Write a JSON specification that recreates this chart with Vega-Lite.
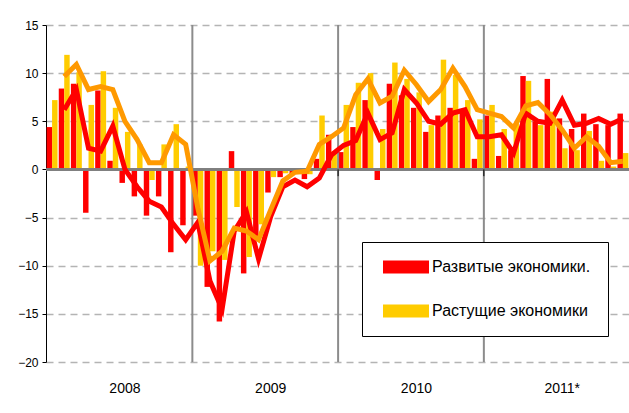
{
  "$schema": "https://vega.github.io/schema/vega-lite/v6.json",
  "width": 583,
  "height": 337,
  "autosize": "none",
  "padding": {"left": 46, "top": 25, "right": 0, "bottom": 51},
  "background": "white",
  "config": {
    "font": "Liberation Sans",
    "view": {"stroke": null},
    "axis": {"labelColor": "black", "labelFont": "Liberation Sans"},
    "legend": {"labelFont": "Liberation Sans"}
  },
  "data": {"values": [
    {"m":"2008-01","s":"Развитые экономики.","v":4.4,"ma":null},{"m":"2008-01","s":"Растущие экономики","v":7.2,"ma":null},
    {"m":"2008-02","s":"Развитые экономики.","v":8.4,"ma":6.2},{"m":"2008-02","s":"Растущие экономики","v":11.9,"ma":9.65},
    {"m":"2008-03","s":"Развитые экономики.","v":8.9,"ma":8.3},{"m":"2008-03","s":"Растущие экономики","v":10.1,"ma":10.9},
    {"m":"2008-04","s":"Развитые экономики.","v":-4.5,"ma":2.2},{"m":"2008-04","s":"Растущие экономики","v":6.7,"ma":8.3},
    {"m":"2008-05","s":"Развитые экономики.","v":8.2,"ma":1.9},{"m":"2008-05","s":"Растущие экономики","v":10.2,"ma":8.6},
    {"m":"2008-06","s":"Развитые экономики.","v":0.9,"ma":4.5},{"m":"2008-06","s":"Растущие экономики","v":6.4,"ma":8.3},
    {"m":"2008-07","s":"Развитые экономики.","v":-1.4,"ma":0.0},{"m":"2008-07","s":"Растущие экономики","v":3.9,"ma":5.0},
    {"m":"2008-08","s":"Развитые экономики.","v":-2.8,"ma":-1.8},{"m":"2008-08","s":"Растущие экономики","v":2.6,"ma":3.1},
    {"m":"2008-09","s":"Развитые экономики.","v":-4.8,"ma":-3.3},{"m":"2008-09","s":"Растущие экономики","v":-1.1,"ma":0.7},
    {"m":"2008-10","s":"Развитые экономики.","v":-2.8,"ma":-3.9},{"m":"2008-10","s":"Растущие экономики","v":2.6,"ma":0.7},
    {"m":"2008-11","s":"Развитые экономики.","v":-8.6,"ma":-5.7},{"m":"2008-11","s":"Растущие экономики","v":4.7,"ma":3.6},
    {"m":"2008-12","s":"Развитые экономики.","v":-5.8,"ma":-7.3},{"m":"2008-12","s":"Растущие экономики","v":0.3,"ma":2.6},
    {"m":"2009-01","s":"Развитые экономики.","v":-4.8,"ma":-5.5},{"m":"2009-01","s":"Растущие экономики","v":-10.0,"ma":-4.0},
    {"m":"2009-02","s":"Развитые экономики.","v":-12.2,"ma":-11.6},{"m":"2009-02","s":"Растущие экономики","v":-8.5,"ma":-9.5},
    {"m":"2009-03","s":"Развитые экономики.","v":-15.8,"ma":-14.5},{"m":"2009-03","s":"Растущие экономики","v":-9.4,"ma":-8.5},
    {"m":"2009-04","s":"Развитые экономики.","v":1.9,"ma":-6.4},{"m":"2009-04","s":"Растущие экономики","v":-3.9,"ma":-6.1},
    {"m":"2009-05","s":"Развитые экономики.","v":-10.8,"ma":-4.4},{"m":"2009-05","s":"Растущие экономики","v":-9.1,"ma":-6.4},
    {"m":"2009-06","s":"Развитые экономики.","v":-7.0,"ma":-9.3},{"m":"2009-06","s":"Растущие экономики","v":-5.7,"ma":-7.3},
    {"m":"2009-07","s":"Развитые экономики.","v":-2.4,"ma":-4.9},{"m":"2009-07","s":"Растущие экономики","v":-0.8,"ma":-4.2},
    {"m":"2009-08","s":"Развитые экономики.","v":-0.8,"ma":-1.8},{"m":"2009-08","s":"Растущие экономики","v":-0.4,"ma":-1.2},
    {"m":"2009-09","s":"Развитые экономики.","v":-0.5,"ma":-1.1},{"m":"2009-09","s":"Растущие экономики","v":-0.2,"ma":-0.3},
    {"m":"2009-10","s":"Развитые экономики.","v":-1.0,"ma":-1.8},{"m":"2009-10","s":"Растущие экономики","v":-0.5,"ma":-0.2},
    {"m":"2009-11","s":"Развитые экономики.","v":1.1,"ma":-0.9},{"m":"2009-11","s":"Растущие экономики","v":5.6,"ma":2.6},
    {"m":"2009-12","s":"Развитые экономики.","v":3.6,"ma":1.5},{"m":"2009-12","s":"Растущие экономики","v":1.9,"ma":3.4},
    {"m":"2010-01","s":"Развитые экономики.","v":1.8,"ma":2.5},{"m":"2010-01","s":"Растущие экономики","v":6.7,"ma":4.3},
    {"m":"2010-02","s":"Развитые экономики.","v":4.4,"ma":3.0},{"m":"2010-02","s":"Растущие экономики","v":9.0,"ma":7.75},
    {"m":"2010-03","s":"Развитые экономики.","v":7.2,"ma":5.85},{"m":"2010-03","s":"Растущие экономики","v":10.0,"ma":9.4},
    {"m":"2010-04","s":"Развитые экономики.","v":-1.1,"ma":3.1},{"m":"2010-04","s":"Растущие экономики","v":4.2,"ma":6.9},
    {"m":"2010-05","s":"Развитые экономики.","v":8.9,"ma":3.8},{"m":"2010-05","s":"Растущие экономики","v":11.1,"ma":7.6},
    {"m":"2010-06","s":"Развитые экономики.","v":7.7,"ma":8.3},{"m":"2010-06","s":"Растущие экономики","v":9.4,"ma":10.3},
    {"m":"2010-07","s":"Развитые экономики.","v":6.4,"ma":6.9},{"m":"2010-07","s":"Растущие экономики","v":8.0,"ma":8.8},
    {"m":"2010-08","s":"Развитые экономики.","v":3.9,"ma":5.0},{"m":"2010-08","s":"Растущие экономики","v":4.6,"ma":7.05},
    {"m":"2010-09","s":"Развитые экономики.","v":5.6,"ma":4.7},{"m":"2010-09","s":"Растущие экономики","v":11.4,"ma":8.3},
    {"m":"2010-10","s":"Развитые экономики.","v":6.4,"ma":5.85},{"m":"2010-10","s":"Растущие экономики","v":9.8,"ma":10.5},
    {"m":"2010-11","s":"Развитые экономики.","v":6.2,"ma":6.2},{"m":"2010-11","s":"Растущие экономики","v":7.2,"ma":8.6},
    {"m":"2010-12","s":"Развитые экономики.","v":1.1,"ma":3.4},{"m":"2010-12","s":"Растущие экономики","v":5.2,"ma":6.2},
    {"m":"2011-01","s":"Развитые экономики.","v":5.6,"ma":3.4},{"m":"2011-01","s":"Растущие экономики","v":6.7,"ma":5.85},
    {"m":"2011-02","s":"Развитые экономики.","v":1.4,"ma":3.6},{"m":"2011-02","s":"Растущие экономики","v":4.2,"ma":5.5},
    {"m":"2011-03","s":"Развитые экономики.","v":2.0,"ma":1.7},{"m":"2011-03","s":"Растущие экономики","v":4.8,"ma":4.3},
    {"m":"2011-04","s":"Развитые экономики.","v":9.7,"ma":5.85},{"m":"2011-04","s":"Растущие экономики","v":9.2,"ma":6.6},
    {"m":"2011-05","s":"Развитые экономики.","v":5.0,"ma":5.0},{"m":"2011-05","s":"Растущие экономики","v":4.6,"ma":6.95},
    {"m":"2011-06","s":"Развитые экономики.","v":9.4,"ma":4.8},{"m":"2011-06","s":"Растущие экономики","v":6.0,"ma":5.7},
    {"m":"2011-07","s":"Развитые экономики.","v":5.3,"ma":7.2},{"m":"2011-07","s":"Растущие экономики","v":2.2,"ma":4.1},
    {"m":"2011-08","s":"Развитые экономики.","v":4.2,"ma":4.6},{"m":"2011-08","s":"Растущие экономики","v":2.0,"ma":2.2},
    {"m":"2011-09","s":"Развитые экономики.","v":5.8,"ma":4.8},{"m":"2011-09","s":"Растущие экономики","v":4.0,"ma":3.4},
    {"m":"2011-10","s":"Развитые экономики.","v":4.7,"ma":5.3},{"m":"2011-10","s":"Растущие экономики","v":0.9,"ma":2.4},
    {"m":"2011-11","s":"Развитые экономики.","v":4.6,"ma":4.7},{"m":"2011-11","s":"Растущие экономики","v":0.3,"ma":0.7},
    {"m":"2011-12","s":"Развитые экономики.","v":5.8,"ma":5.3},{"m":"2011-12","s":"Растущие экономики","v":1.7,"ma":0.85}
  ]},
  "layer": [
    {
      "mark": {"type": "bar"},
      "encoding": {
        "x": {
          "field": "m", "type": "ordinal",
          "scale": {"paddingInner": 0.1, "paddingOuter": 0.05},
          "axis": {
            "values": ["2008-07", "2009-07", "2010-07", "2011-07"],
            "bandPosition": 0,
            "labelExpr": "slice(datum.value,0,4) + (slice(datum.value,0,4) == '2011' ? '*' : '')",
            "domain": false, "ticks": false, "grid": false,
            "labelAngle": 0, "labelPadding": 19, "labelFontSize": 14,
            "title": null
          }
        },
        "xOffset": {"field": "s", "scale": {"domain": ["Развитые экономики.", "Растущие экономики"]}},
        "y": {
          "field": "v", "type": "quantitative",
          "scale": {"domain": [-20, 15], "nice": false},
          "axis": {
            "values": [-20, -15, -10, -5, 0, 5, 10, 15],
            "grid": true, "gridDash": [7, 5], "gridColor": "#b4b4b4", "gridWidth": 1.5,
            "domainColor": "black", "domainWidth": 1,
            "tickColor": "black", "tickSize": 4,
            "labelFontSize": 12, "labelPadding": 4,
            "title": null
          }
        },
        "fill": {
          "field": "s", "type": "nominal",
          "scale": {"domain": ["Развитые экономики.", "Растущие экономики"], "range": ["#ff0000", "#ffcc00"]},
          "legend": {
            "orient": "none", "legendX": 316, "legendY": 217,
            "title": null,
            "symbolType": "M-3.2857,-0.9286H3.2857V0.9286H-3.2857Z",
            "symbolSize": 196,
            "symbolStrokeWidth": 0,
            "symbolOffset": 19,
            "labelFontSize": 16, "labelColor": "black", "labelOffset": 18,
            "rowPadding": 28, "padding": 17,
            "fillColor": "white", "strokeColor": "black"
          }
        }
      }
    },
    {
      "data": {"values": [{"m": "2009-01"}, {"m": "2010-01"}, {"m": "2011-01"}]},
      "mark": {"type": "rule", "color": "#8c8c8c", "strokeWidth": 2},
      "encoding": {"x": {"field": "m", "type": "ordinal", "bandPosition": 0}}
    },
    {
      "mark": {"type": "rule", "color": "#7f7f7f", "strokeWidth": 1.5},
      "encoding": {"y": {"datum": 0}}
    },
    {
      "data": {"values": [{"m": "2009-01"}, {"m": "2010-01"}, {"m": "2011-01"}]},
      "mark": {"type": "rule", "color": "black", "strokeWidth": 1},
      "encoding": {"x": {"field": "m", "type": "ordinal", "bandPosition": 0}, "y": {"datum": 0}, "y2": {"datum": -0.7}}
    },
    {
      "mark": {"type": "line", "strokeWidth": 5},
      "encoding": {
        "x": {"field": "m", "type": "ordinal"},
        "y": {"field": "ma", "type": "quantitative"},
        "stroke": {
          "field": "s", "type": "nominal",
          "scale": {"domain": ["Развитые экономики.", "Растущие экономики"], "range": ["#ff0000", "#ff9900"]},
          "legend": null
        }
      }
    }
  ]
}
